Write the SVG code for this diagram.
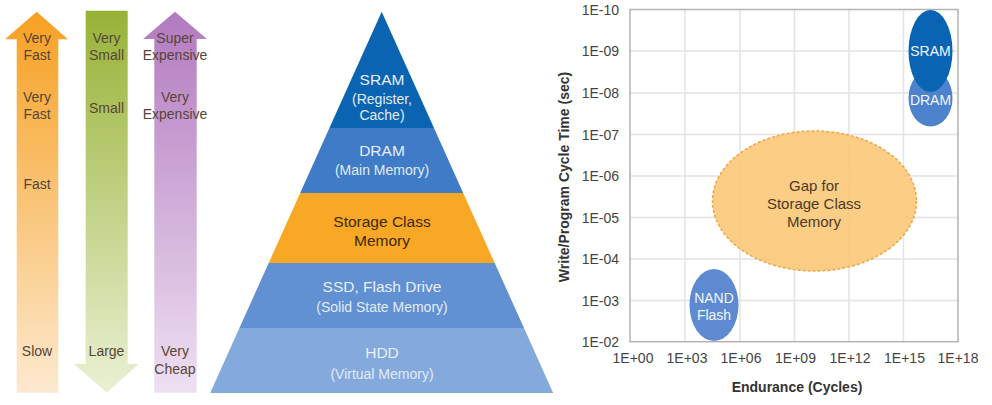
<svg xmlns="http://www.w3.org/2000/svg" width="992" height="405" viewBox="0 0 992 405">
<defs>
<linearGradient id="gOrange" x1="0" y1="0" x2="0" y2="1"><stop offset="0" stop-color="#f7a021"/><stop offset="1" stop-color="#fde9cf"/></linearGradient>
<linearGradient id="gGreen" x1="0" y1="0" x2="0" y2="1"><stop offset="0" stop-color="#98b236"/><stop offset="1" stop-color="#eaf0d4"/></linearGradient>
<linearGradient id="gPurple" x1="0" y1="0" x2="0" y2="1"><stop offset="0" stop-color="#b37ac0"/><stop offset="1" stop-color="#eee0f1"/></linearGradient>
<style>
text{font-family:"Liberation Sans",Arial,sans-serif;text-anchor:middle;dominant-baseline:central}
.lbl{font-size:14px;fill:#564637}
.pm{font-size:15.5px;fill:#e8eff9}
.ps{font-size:14px;fill:#e2ebf7}
.pd{font-size:15.5px;fill:#3b2a10}
.tick{font-size:14px;fill:#444}
.ytick{text-anchor:end}
.grid{stroke:#e3e3e3;stroke-width:1.5}
.ax{font-size:14px;font-weight:bold;fill:#333}
.ew{font-size:14px;fill:#f2f6fc}
.gap{font-size:15px;fill:#4a3b28}
</style>
</defs>

<g id="arrow-speed">
<polygon points="36.7,11.7 68,39.3 58.3,39.3 58.3,392.7 16.7,392.7 16.7,39.3 5,39.3" fill="url(#gOrange)"/>
<text class="lbl" x="37" y="37.7">Very</text><text class="lbl" x="37" y="54.5">Fast</text>
<text class="lbl" x="37" y="97">Very</text><text class="lbl" x="37" y="114">Fast</text>
<text class="lbl" x="37" y="184">Fast</text>
<text class="lbl" x="37" y="351">Slow</text>
</g>

<g id="arrow-size">
<polygon points="85.7,10.7 127.7,10.7 127.7,364 138.7,364 106.7,392.7 74,364 85.7,364" fill="url(#gGreen)"/>
<text class="lbl" x="106.5" y="37.7">Very</text><text class="lbl" x="106.5" y="54.5">Small</text>
<text class="lbl" x="106.5" y="108">Small</text>
<text class="lbl" x="106.5" y="351">Large</text>
</g>

<g id="arrow-cost">
<polygon points="175,11.7 207,39 196.7,39 196.7,392.7 154.3,392.7 154.3,39 143,39" fill="url(#gPurple)"/>
<text class="lbl" x="175" y="37.7">Super</text><text class="lbl" x="175" y="54.5">Expensive</text>
<text class="lbl" x="175" y="97">Very</text><text class="lbl" x="175" y="114">Expensive</text>
<text class="lbl" x="175" y="351">Very</text><text class="lbl" x="175" y="369">Cheap</text>
</g>

<g id="pyr-sram">
<polygon points="381.7,11.7 434,128 329.4,128" fill="#0b64b2"/>
<text class="pm" x="382" y="79">SRAM</text>
<text class="ps" x="382" y="99">(Register,</text>
<text class="ps" x="382" y="115">Cache)</text>
</g>
<g id="pyr-dram">
<polygon points="329.4,128 434,128 463.2,193 300.2,193" fill="#3f7bc7"/>
<text class="pm" x="382" y="150">DRAM</text>
<text class="ps" x="382" y="170">(Main Memory)</text>
</g>
<g id="pyr-scm">
<polygon points="300.2,193 463.2,193 494.7,263 268.7,263" fill="#f8a824"/>
<text class="pd" x="382" y="221">Storage Class</text>
<text class="pd" x="382" y="240">Memory</text>
</g>
<g id="pyr-ssd">
<polygon points="268.7,263 494.7,263 524,328 239.4,328" fill="#6191d2"/>
<text class="pm" x="382" y="286">SSD, Flash Drive</text>
<text class="ps" x="382" y="307">(Solid State Memory)</text>
</g>
<g id="pyr-hdd">
<polygon points="239.4,328 524,328 553.2,393 210.2,393" fill="#83a9dd"/>
<text class="pm" x="382" y="352">HDD</text>
<text class="ps" x="382" y="374">(Virtual Memory)</text>
</g>

<g id="chart">
<g class="grid">
<line x1="685" y1="9.5" x2="685" y2="341.7"/><line x1="740" y1="9.5" x2="740" y2="341.7"/><line x1="794.5" y1="9.5" x2="794.5" y2="341.7"/><line x1="849" y1="9.5" x2="849" y2="341.7"/><line x1="903.5" y1="9.5" x2="903.5" y2="341.7"/>
<line x1="630" y1="51" x2="958" y2="51"/><line x1="630" y1="93" x2="958" y2="93"/><line x1="630" y1="134.5" x2="958" y2="134.5"/><line x1="630" y1="176" x2="958" y2="176"/><line x1="630" y1="217.5" x2="958" y2="217.5"/><line x1="630" y1="259" x2="958" y2="259"/><line x1="630" y1="300.5" x2="958" y2="300.5"/>
</g>
<rect x="630" y="9.5" width="328" height="332.2" fill="none" stroke="#b3b3b3" stroke-width="1.5"/>
<g class="tick">
<text class="ytick" x="619" y="9.5">1E-10</text><text class="ytick" x="619" y="51">1E-09</text><text class="ytick" x="619" y="93">1E-08</text><text class="ytick" x="619" y="134.5">1E-07</text><text class="ytick" x="619" y="176">1E-06</text><text class="ytick" x="619" y="217.5">1E-05</text><text class="ytick" x="619" y="259">1E-04</text><text class="ytick" x="619" y="300.5">1E-03</text><text class="ytick" x="619" y="341.7">1E-02</text>
<text x="633" y="358">1E+00</text><text x="687" y="358">1E+03</text><text x="741" y="358">1E+06</text><text x="795.5" y="358">1E+09</text><text x="850" y="358">1E+12</text><text x="904.5" y="358">1E+15</text><text x="958" y="358">1E+18</text>
</g>
<text class="ax" x="797" y="387">Endurance (Cycles)</text>
<text class="ax" transform="translate(564,177) rotate(-90)" x="0" y="0">Write/Program Cycle Time (sec)</text>
</g>

<g id="ell-gap">
<ellipse cx="814.5" cy="201" rx="102" ry="70" fill="#fcc877" fill-opacity="0.9" stroke="#f0a548" stroke-width="1.5" stroke-dasharray="3,2"/>
<text class="gap" x="814" y="185">Gap for</text>
<text class="gap" x="814" y="203">Storage Class</text>
<text class="gap" x="814" y="221">Memory</text>
</g>
<g id="ell-dram">
<ellipse cx="930.5" cy="98" rx="22" ry="28.5" fill="#4d82cc"/>
<text class="ew" x="930.5" y="100">DRAM</text>
</g>
<g id="ell-sram">
<ellipse cx="930.5" cy="51" rx="22" ry="41" fill="#0a64b4"/>
<text class="ew" x="930.5" y="51">SRAM</text>
</g>
<g id="ell-nand">
<ellipse cx="714" cy="305" rx="24.5" ry="36" fill="#5d8ad1"/>
<text class="ew" x="714" y="298">NAND</text>
<text class="ew" x="714" y="314.5">Flash</text>
</g>
</svg>
